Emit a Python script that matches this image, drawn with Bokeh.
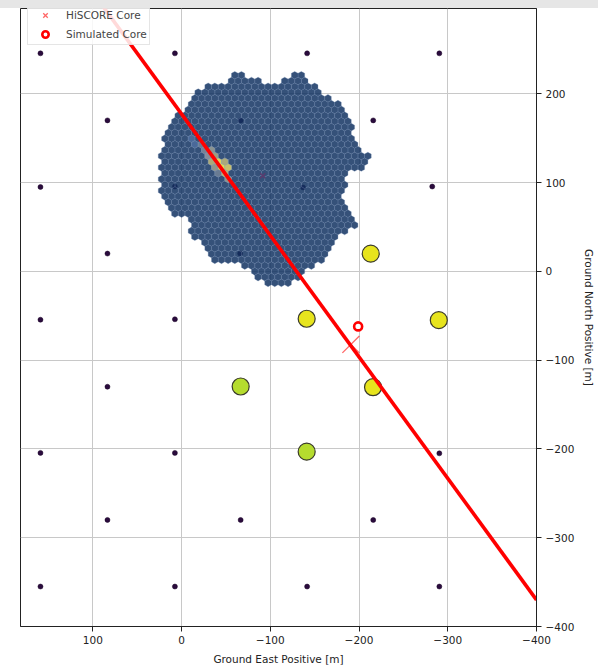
from bokeh.plotting import figure
from bokeh.models import Range1d, FixedTicker, Div, Legend, LegendItem, ColumnDataSource
from bokeh.layouts import column
from bokeh.embed import file_html
from bokeh.resources import INLINE

# ---------------- data ----------------
# HiSCORE stations without signal
station_x = [159.0, 7.5, -141.5, -290.5,
             83.5, -66.6, -216.0,
             159.0, 7.5, -137.0, -282.5,
             83.5, -66.0,
             159.0, 7.5,
             83.5,
             159.0, 7.5, -290.5,
             83.5, -66.6, -216.0,
             159.0, 7.5, -141.5, -290.5]
station_y = [245.5, 245.5, 245.5, 245.5,
             170.0, 170.0, 170.0,
             95.0, 95.5, 94.5, 95.5,
             20.0, 20.0,
             -54.5, -54.0,
             -130.0,
             -204.5, -204.5, -205.0,
             -280.0, -280.0, -280.0,
             -355.0, -355.0, -355.0, -355.0]

# triggered stations
trig_x = [-213.2, -141.0, -289.9, -66.6, -215.8, -141.0]
trig_y = [19.9, -53.4, -55.0, -129.7, -130.5, -203.1]
trig_color = ["#e7e41d", "#e7e41d", "#e7e41d", "#b5dc2e", "#e7e41d", "#b5dc2e"]

# cores
hiscore_core_x = [-190.8]
hiscore_core_y = [-82.3]
sim_core_x = [-199.0]
sim_core_y = [-62.0]

# reconstructed shower axis (ground projection)
axis_line_x = [100.0, -400.0]
axis_line_y = [314.0, -370.0]

# centre marker of the imaging array
array_center_x = [-91.5]
array_center_y = [107.7]

# hexagonal pixel array: row r -> list of (q_first, q_last) segments (axial coords)
HEX_ROWS = [
    (-34, [(8, 9), (-1, 0)]),
    (-33, [(5, 9), (-2, 1)]),
    (-32, [(-4, 12)]),
    (-31, [(-5, 13)]),
    (-30, [(-7, 13)]),
    (-29, [(-9, 13)]),
    (-28, [(-10, 13)]),
    (-27, [(-11, 14)]),
    (-26, [(-12, 14)]),
    (-25, [(-13, 14)]),
    (-24, [(-13, 14)]),
    (-23, [(-14, 14)]),
    (-22, [(-15, 13)]),
    (-21, [(-16, 13)]),
    (-20, [(-18, 13)]),
    (-19, [(-18, 12)]),
    (-18, [(-18, 12)]),
    (-17, [(-16, 11)]),
    (-16, [(-16, 11)]),
    (-15, [(-17, 10)]),
    (-14, [(-17, 10)]),
    (-13, [(-17, 9)]),
    (-12, [(-18, 8)]),
    (-11, [(-19, 7)]),
    (-10, [(-20, 6)]),
    (-9, [(-21, 3)]),
    (-8, [(-22, 2)]),
    (-7, [(-21, 2)]),
    (-6, [(-20, 1)]),
    (-5, [(-20, -1)]),
    (-4, [(-20, -2)]),
    (-3, [(-20, -3)]),
    (-2, [(-20, -4)]),
    (-1, [(-19, -9)]),
    (0, [(-18, -11)]),
    (1, [(-18, -12)]),
    (2, [(-17, -14)]),
]
HEX_SIZE = 4.33  # metres

# pixels with signal
hit_q = [10, 9, 8, 7, 6, 6, 5, 5, 4, 3, 4, 3, 2, 3, 2, 1]
hit_r = [-23, -22, -22, -21, -21, -20, -20, -19, -19, -19, -18, -18, -18, -17, -17, -16]
hit_color = ["#4d6c9c", "#4d6c9c", "#6f7f96", "#7d879a", "#969a92", "#8f94a0",
             "#a9a57f", "#b8b27a", "#f2e35a", "#b8b27a", "#9c9c8c", "#f7e94f",
             "#d8cc6a", "#6f7f96", "#c8be78", "#9a9a8e"]

x_ticks = [100, 0, -100, -200, -300, -400]
y_ticks = [300, 200, 100, 0, -100, -200, -300, -400]

x_title = "Ground East Positive [m]"
y_title = "Ground North Positive [m]"

# ---------------- figure ----------------
p = figure(width=598, height=659, x_range=Range1d(181.5, -400), y_range=Range1d(-400, 296),
           output_backend="svg", toolbar_location=None, y_axis_location="right",
           min_border_left=20, min_border_top=0, min_border_right=60, min_border_bottom=39)

p.background_fill_color = "white"
p.border_fill_color = "white"
p.outline_line_color = "#222222"
p.outline_line_width = 1

def minus(v):
    return str(v).replace("-", "\u2212")

p.xaxis.ticker = FixedTicker(ticks=x_ticks)
p.yaxis.ticker = FixedTicker(ticks=y_ticks)
p.xaxis.major_label_overrides = {v: minus(v) for v in x_ticks}
p.yaxis.major_label_overrides = {v: minus(v) for v in y_ticks}
p.xaxis.axis_label = x_title
p.yaxis.axis_label = y_title
for ax in (p.xaxis, p.yaxis):
    ax.axis_label_text_font = "DejaVu Sans"
    ax.axis_label_text_font_size = "10.5px"
    ax.axis_label_text_font_style = "normal"
    ax.axis_label_text_color = "#222222"
    ax.major_label_text_font = "DejaVu Sans"
    ax.major_label_text_font_size = "10.5px"
    ax.major_label_text_color = "#222222"
    ax.axis_line_color = "#222222"
    ax.major_tick_line_color = "#222222"
    ax.major_tick_out = 5
    ax.major_tick_in = 0
    ax.minor_tick_line_color = None
    ax.major_label_standoff = 4
    ax.axis_label_standoff = 6

p.grid.grid_line_color = "#c8c8c8"
p.grid.grid_line_width = 1

# stations
p.scatter(station_x, station_y, marker="circle", size=5, fill_color="#2a0b3d", line_color="#1a0526",
          line_width=0.5)

# hexagonal camera-like array
hq, hr = [], []
for r, segs in HEX_ROWS:
    for q0, q1 in segs:
        for q in range(q0, q1 + 1):
            hq.append(q)
            hr.append(r)
hex_src = ColumnDataSource(dict(q=hq, r=hr))
p.hex_tile(q="q", r="r", size=HEX_SIZE, source=hex_src, orientation="pointytop",
           fill_color="#123262", fill_alpha=0.85, line_color="#6a86b0", line_width=0.6, line_alpha=0.5)
hit_src = ColumnDataSource(dict(q=hit_q, r=hit_r, c=hit_color))
p.hex_tile(q="q", r="r", size=HEX_SIZE, source=hit_src, orientation="pointytop",
           fill_color="c", fill_alpha=0.9, line_color="#8aa0c0", line_width=0.6, line_alpha=0.5)

p.scatter(array_center_x, array_center_y, marker="x", size=7, line_color="#5b3b6e", line_width=1.5)

# triggered stations
trig_src = ColumnDataSource(dict(x=trig_x, y=trig_y, c=trig_color))
p.scatter("x", "y", source=trig_src, marker="circle", size=17, fill_color="c",
          line_color="#3a3a2a", line_width=1.2)

# HiSCORE core (under the axis line)
core_r = p.scatter(hiscore_core_x, hiscore_core_y, marker="x", size=24, line_color="red",
                   line_width=1.3, line_alpha=0.6)

# shower axis
p.line(axis_line_x, axis_line_y, line_color="red", line_width=3.6)

# simulated core
sim_r = p.scatter(sim_core_x, sim_core_y, marker="circle", size=8, fill_color="white",
                  line_color="red", line_width=2.6)

legend = Legend(items=[LegendItem(label="HiSCORE Core", renderers=[core_r]),
                       LegendItem(label="Simulated Core", renderers=[sim_r])],
                location=(7, 581), padding=2, spacing=3, glyph_height=16, label_height=16,
                glyph_width=30, label_standoff=6, margin=0,
                label_text_font="DejaVu Sans", label_text_font_size="10.5px",
                border_line_color="#cccccc", background_fill_alpha=0.85)
p.add_layout(legend)

band = Div(text="", width=598, height=8, margin=0,
           styles={"background-color": "#e6e6e6"})
layout = column(band, p, spacing=0)

open("out.html", "w").write(file_html(layout, INLINE))
